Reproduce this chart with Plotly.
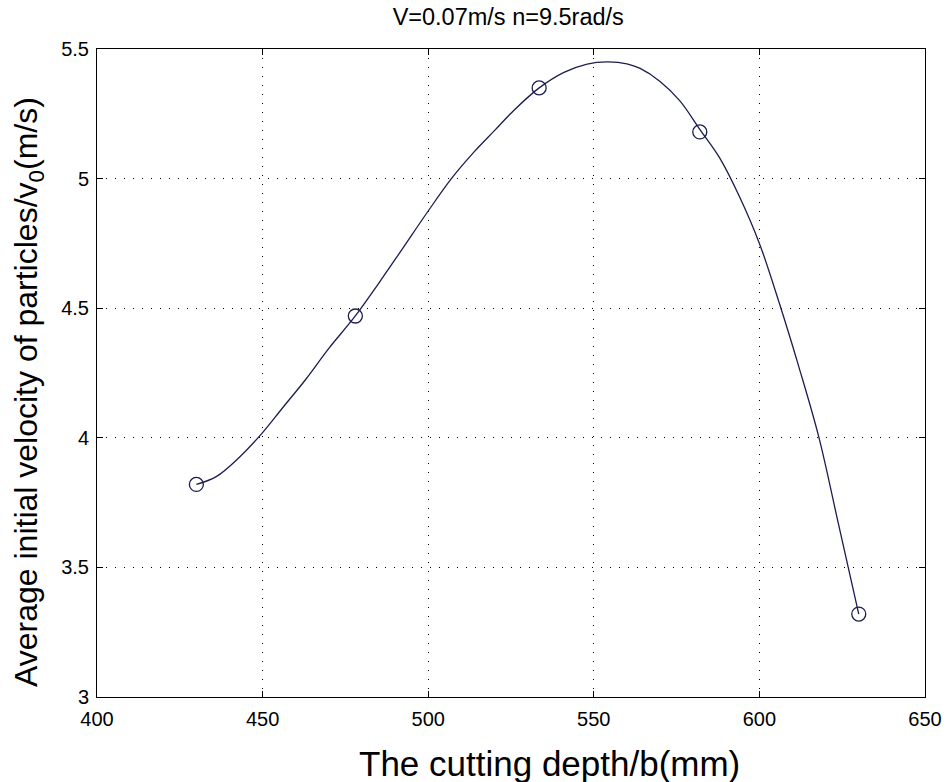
import plotly.graph_objects as go

# Measured data points (cutting depth mm, velocity m/s)
depth_pts = [430, 478, 533.5, 582, 630]
vel_pts = [3.82, 4.47, 5.35, 5.18, 3.32]

# Fitted curve
curve_x = [430, 436, 443, 450, 456, 463, 470, 478, 485, 492, 500, 507, 514, 520,
           526, 533.5, 541, 548, 554, 560, 564, 570, 576, 582, 588, 594, 600, 606,
           612, 618, 624, 630]
curve_y = [3.82, 3.85, 3.925, 4.02, 4.115, 4.225, 4.345, 4.47, 4.595, 4.725, 4.875, 5.0, 5.105, 5.185,
           5.265, 5.35, 5.41, 5.442, 5.45, 5.443, 5.425, 5.375, 5.30, 5.19, 5.08, 4.93, 4.75, 4.52,
           4.27, 4.0, 3.66, 3.32]

x_ticks = [400, 450, 500, 550, 600, 650]
y_ticks = [3, 3.5, 4, 4.5, 5, 5.5]
y_tick_text = ["3", "3.5", "4", "4.5", "5", "5.5"]

x_title = "The cutting depth/b(mm)"
y_title = "Average initial velocity of particles/v<sub>0</sub>(m/s)"
chart_title = "V=0.07m/s n=9.5rad/s"

line_col = "#1c1c50"
font_fam = "Liberation Sans, Arial, sans-serif"

fig = go.Figure()
fig.add_trace(go.Scatter(x=curve_x, y=curve_y, mode="lines",
                         line=dict(color=line_col, width=1.3, shape="spline", smoothing=1.0),
                         showlegend=False, hoverinfo="skip"))
fig.add_trace(go.Scatter(x=depth_pts, y=vel_pts, mode="markers",
                         marker=dict(symbol="circle-open", size=14, color=line_col,
                                     line=dict(width=1.3, color=line_col)),
                         showlegend=False))

axis_common = dict(
    showline=True, linecolor="black", linewidth=1, mirror="ticks",
    ticks="inside", ticklen=6, tickcolor="black", tickwidth=1,
    showgrid=True, gridcolor="black", gridwidth=1, griddash="1px,8px",
    zeroline=False, automargin=False,
    tickfont=dict(family=font_fam, size=20, color="black"),
)

fig.update_xaxes(range=[400, 650], tickvals=x_ticks, ticktext=[str(v) for v in x_ticks],
                 ticklabelstandoff=4, **axis_common)
fig.update_yaxes(range=[3, 5.5], tickvals=y_ticks, ticktext=y_tick_text,
                 ticklabelstandoff=3, **axis_common)

fig.add_annotation(text=x_title, xref="paper", yref="paper", x=(549 - 97) / 828,
                   y=(697 - 763) / 648, xanchor="center", yanchor="middle", showarrow=False,
                   font=dict(family=font_fam, size=35, color="black"))
fig.add_annotation(text=y_title, xref="paper", yref="paper", x=0, xshift=-69,
                   y=(697 - 392) / 648, xanchor="center", yanchor="middle", showarrow=False,
                   textangle=-90, font=dict(family=font_fam, size=32, color="black"))

fig.update_layout(
    width=950, height=782,
    margin=dict(l=97, r=25, t=49, b=85, autoexpand=False),
    paper_bgcolor="white", plot_bgcolor="white",
    title=dict(text=chart_title, x=0.535, xanchor="center", y=0.978, yanchor="middle",
               font=dict(family=font_fam, size=23.5, color="black")),
)

fig.write_html("out.html")
